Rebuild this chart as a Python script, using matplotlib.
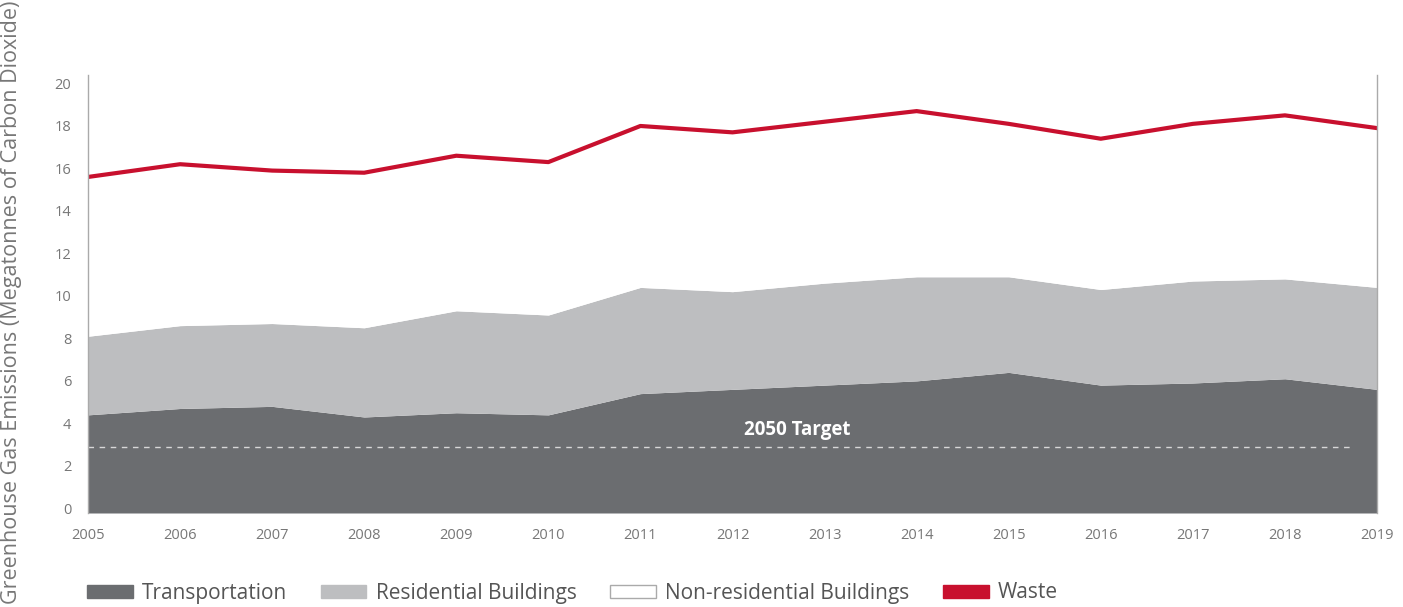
import numpy as np
import matplotlib.pyplot as plt
from matplotlib.patches import Patch

plt.rcParams['font.family'] = ['Open Sans', 'DejaVu Sans']

years = list(range(2005, 2020))
transportation = [4.4, 4.7, 4.8, 4.3, 4.5, 4.4, 5.4, 5.6, 5.8, 6.0, 6.4, 5.8, 5.9, 6.1, 5.6]
residential_top = [8.1, 8.6, 8.7, 8.5, 9.3, 9.1, 10.4, 10.2, 10.6, 10.9, 10.9, 10.3, 10.7, 10.8, 10.4]
waste_top = [15.6, 16.2, 15.9, 15.8, 16.6, 16.3, 18.0, 17.7, 18.2, 18.7, 18.1, 17.4, 18.1, 18.5, 17.9]
target_2050 = 2.9

dark = '#6b6d70'
light = '#bdbec0'
red = '#c8102e'
txt = '#777777'

fig = plt.figure(figsize=(14.03, 6.07), dpi=100)
ax = fig.add_axes([88 / 1403, 1 - 513 / 607, (1377 - 88) / 1403, (513 - 75) / 607])
ax.set_xlim(2005, 2019)
ax.set_ylim(-0.22, 20.4)
ylo = ax.get_ylim()[0]

ax.fill_between(years, ylo, transportation, color=dark, lw=0)
ax.fill_between(years, transportation, residential_top, color=light, lw=0)
ax.fill_between(years, residential_top, waste_top, color='white', lw=0)
ax.plot(years, waste_top, color=red, lw=3, solid_joinstyle='round')

# 2050 target
ax.plot([2005, 2018.75], [target_2050, target_2050], color='#d8d8d8', lw=1, ls=(0, (4, 4)))
ax.text(2012.7, target_2050 + 0.3, '2050 Target', color='white', fontsize=13.5,
        fontweight='bold', ha='center', va='bottom')

ax.set_xticks(years)
ax.set_xticklabels([str(y) for y in years])
ax.set_yticks(range(0, 21, 2))
ax.tick_params(length=0, colors=txt, labelsize=10.5)
ax.tick_params(axis='x', pad=11)
ax.tick_params(axis='y', pad=12)
for s in ['top', 'bottom']:
    ax.spines[s].set_visible(False)
for s in ['left', 'right']:
    ax.spines[s].set_color('#aaaaaa')
    ax.spines[s].set_linewidth(1)

fig.text(12 / 1403, 1 - 604 / 607, 'Greenhouse Gas Emissions (Megatonnes of Carbon Dioxide)',
         rotation=90, ha='center', va='bottom', fontsize=15.5, color=txt)

handles = [
    Patch(facecolor=dark, edgecolor=dark, label='Transportation'),
    Patch(facecolor=light, edgecolor=light, label='Residential Buildings'),
    Patch(facecolor='white', edgecolor='#aaaaaa', label='Non-residential Buildings'),
    Patch(facecolor=red, edgecolor=red, label='Waste'),
]
leg = fig.legend(handles=handles, loc='center left', bbox_to_anchor=(68 / 1403, 1 - 593 / 607),
                 ncol=4, frameon=False, fontsize=15, handlelength=2.2, handleheight=0.6,
                 columnspacing=1.6, handletextpad=0.45)
for t in leg.get_texts():
    t.set_color('#555555')

fig.savefig('out.png', dpi=100)
